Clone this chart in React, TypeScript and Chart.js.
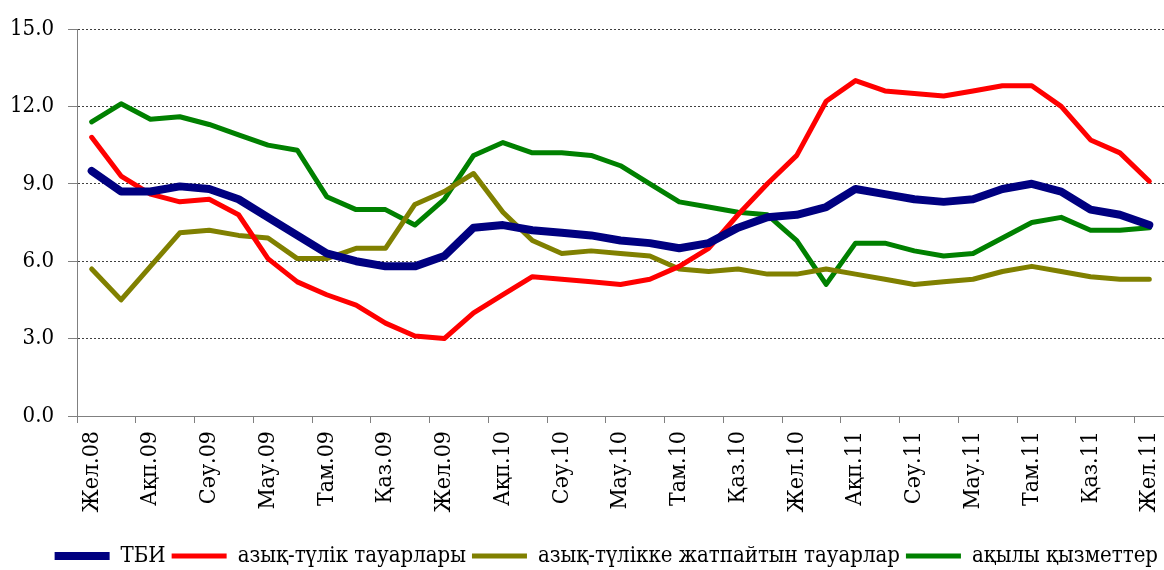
import React, { useEffect, useRef } from 'react';
import { Chart, registerables } from 'chart.js';

Chart.register(...registerables);

const months = [
  'Жел.08', 'Қаң.09', 'Ақп.09', 'Нау.09', 'Сәу.09', 'Мам.09', 'Мау.09', 'Шіл.09', 'Там.09', 'Қыр.09', 'Қаз.09', 'Қар.09',
  'Жел.09', 'Қаң.10', 'Ақп.10', 'Нау.10', 'Сәу.10', 'Мам.10', 'Мау.10', 'Шіл.10', 'Там.10', 'Қыр.10', 'Қаз.10', 'Қар.10',
  'Жел.10', 'Қаң.11', 'Ақп.11', 'Нау.11', 'Сәу.11', 'Мам.11', 'Мау.11', 'Шіл.11', 'Там.11', 'Қыр.11', 'Қаз.11', 'Қар.11',
  'Жел.11',
];

const seriesNames = ['ТБИ', 'азық-түлік тауарлары', 'азық-түлікке жатпайтын тауарлар', 'ақылы қызметтер'];

const tbi = [
  9.5, 8.7, 8.7, 8.9, 8.8, 8.4, 7.7, 7.0, 6.3, 6.0, 5.8, 5.8,
  6.2, 7.3, 7.4, 7.2, 7.1, 7.0, 6.8, 6.7, 6.5, 6.7, 7.3, 7.7,
  7.8, 8.1, 8.8, 8.6, 8.4, 8.3, 8.4, 8.8, 9.0, 8.7, 8.0, 7.8,
  7.4,
];

const food = [
  10.8, 9.3, 8.6, 8.3, 8.4, 7.8, 6.1, 5.2, 4.7, 4.3, 3.6, 3.1,
  3.0, 4.0, 4.7, 5.4, 5.3, 5.2, 5.1, 5.3, 5.8, 6.5, 7.8, 9.0,
  10.1, 12.2, 13.0, 12.6, 12.5, 12.4, 12.6, 12.8, 12.8, 12.0, 10.7, 10.2,
  9.1,
];

const nonFood = [
  5.7, 4.5, 5.8, 7.1, 7.2, 7.0, 6.9, 6.1, 6.1, 6.5, 6.5, 8.2,
  8.7, 9.4, 7.9, 6.8, 6.3, 6.4, 6.3, 6.2, 5.7, 5.6, 5.7, 5.5,
  5.5, 5.7, 5.5, 5.3, 5.1, 5.2, 5.3, 5.6, 5.8, 5.6, 5.4, 5.3,
  5.3,
];

const services = [
  11.4, 12.1, 11.5, 11.6, 11.3, 10.9, 10.5, 10.3, 8.5, 8.0, 8.0, 7.4,
  8.4, 10.1, 10.6, 10.2, 10.2, 10.1, 9.7, 9.0, 8.3, 8.1, 7.9, 7.8,
  6.8, 5.1, 6.7, 6.7, 6.4, 6.2, 6.3, 6.9, 7.5, 7.7, 7.2, 7.2,
  7.3,
];

const yMin = 0;
const yMax = 15;
const yStep = 3;

const FONT = '"DejaVu Serif Condensed", "DejaVu Serif", serif';

export default function App() {
  const ref = useRef<HTMLCanvasElement>(null);

  useEffect(() => {
    const mk = (label: string, data: number[], color: string, width: number) => ({
      label,
      data,
      borderColor: color,
      backgroundColor: color,
      borderWidth: width,
      pointRadius: 0,
      pointHoverRadius: 0,
      tension: 0,
      fill: false,
      borderCapStyle: 'round' as const,
      borderJoinStyle: 'round' as const,
    });
    const chart = new Chart(ref.current!, {
      type: 'line',
      data: {
        labels: months,
        datasets: [
          mk(seriesNames[0], tbi, '#000080', 8),
          mk(seriesNames[1], food, '#FF0000', 5),
          mk(seriesNames[2], nonFood, '#808000', 5),
          mk(seriesNames[3], services, '#008000', 5),
        ],
      },
      options: {
        responsive: false,
        animation: false,
        layout: { padding: { top: 29, right: 0, left: 0, bottom: -7 } },
        plugins: {
          tooltip: { enabled: false },
          legend: {
            position: 'bottom',
            align: 'end',
            labels: {
              usePointStyle: true,
              pointStyle: 'line',
              pointStyleWidth: 55,
              font: { family: FONT, size: 22 },
              color: '#000',
              padding: 6,
            },
          },
        },
        scales: {
          x: {
            offset: true,
            afterFit: (s: any) => {
              s.height = 123;
              s.paddingRight = 0;
              s.paddingLeft = 0;
            },
            grid: {
              offset: true,
              drawOnChartArea: false,
              tickLength: 7,
              color: (c: any) => (c.index % 2 === 0 ? '#808080' : 'rgba(0,0,0,0)'),
              tickColor: (c: any) => (c.index % 2 === 0 ? '#808080' : 'rgba(0,0,0,0)'),
            },
            border: { color: '#808080', width: 1 },
            ticks: {
              autoSkip: false,
              maxRotation: 90,
              minRotation: 90,
              padding: 8,
              color: '#000',
              font: { family: FONT, size: 23 },
              callback: (_v: any, i: number) => (i % 2 === 0 ? months[i] : ''),
            },
          },
          y: {
            min: yMin,
            max: yMax,
            afterFit: (s: any) => {
              s.width = 77;
              s.paddingTop = 0;
              s.paddingBottom = 0;
            },
            ticks: {
              stepSize: yStep,
              color: '#000',
              padding: 14,
              font: { family: FONT, size: 22 },
              callback: (v: any) => Number(v).toFixed(1),
            },
            grid: {
              color: (c: any) => (c.index === 0 ? 'rgba(0,0,0,0)' : '#404040'),
              tickColor: '#808080',
              tickLength: 9,
              tickBorderDash: [],
              lineWidth: 1,
            },
            border: { color: '#808080', width: 1, dash: [2, 2] },
          },
        },
      },
    });
    return () => {
      chart.destroy();
    };
  }, []);

  return (
    <div style={{ position: 'absolute', left: 0, top: 0, width: 1164, height: 570, background: '#fff' }}>
      <canvas ref={ref} width={1164} height={570} style={{ display: 'block' }} />
    </div>
  );
}
